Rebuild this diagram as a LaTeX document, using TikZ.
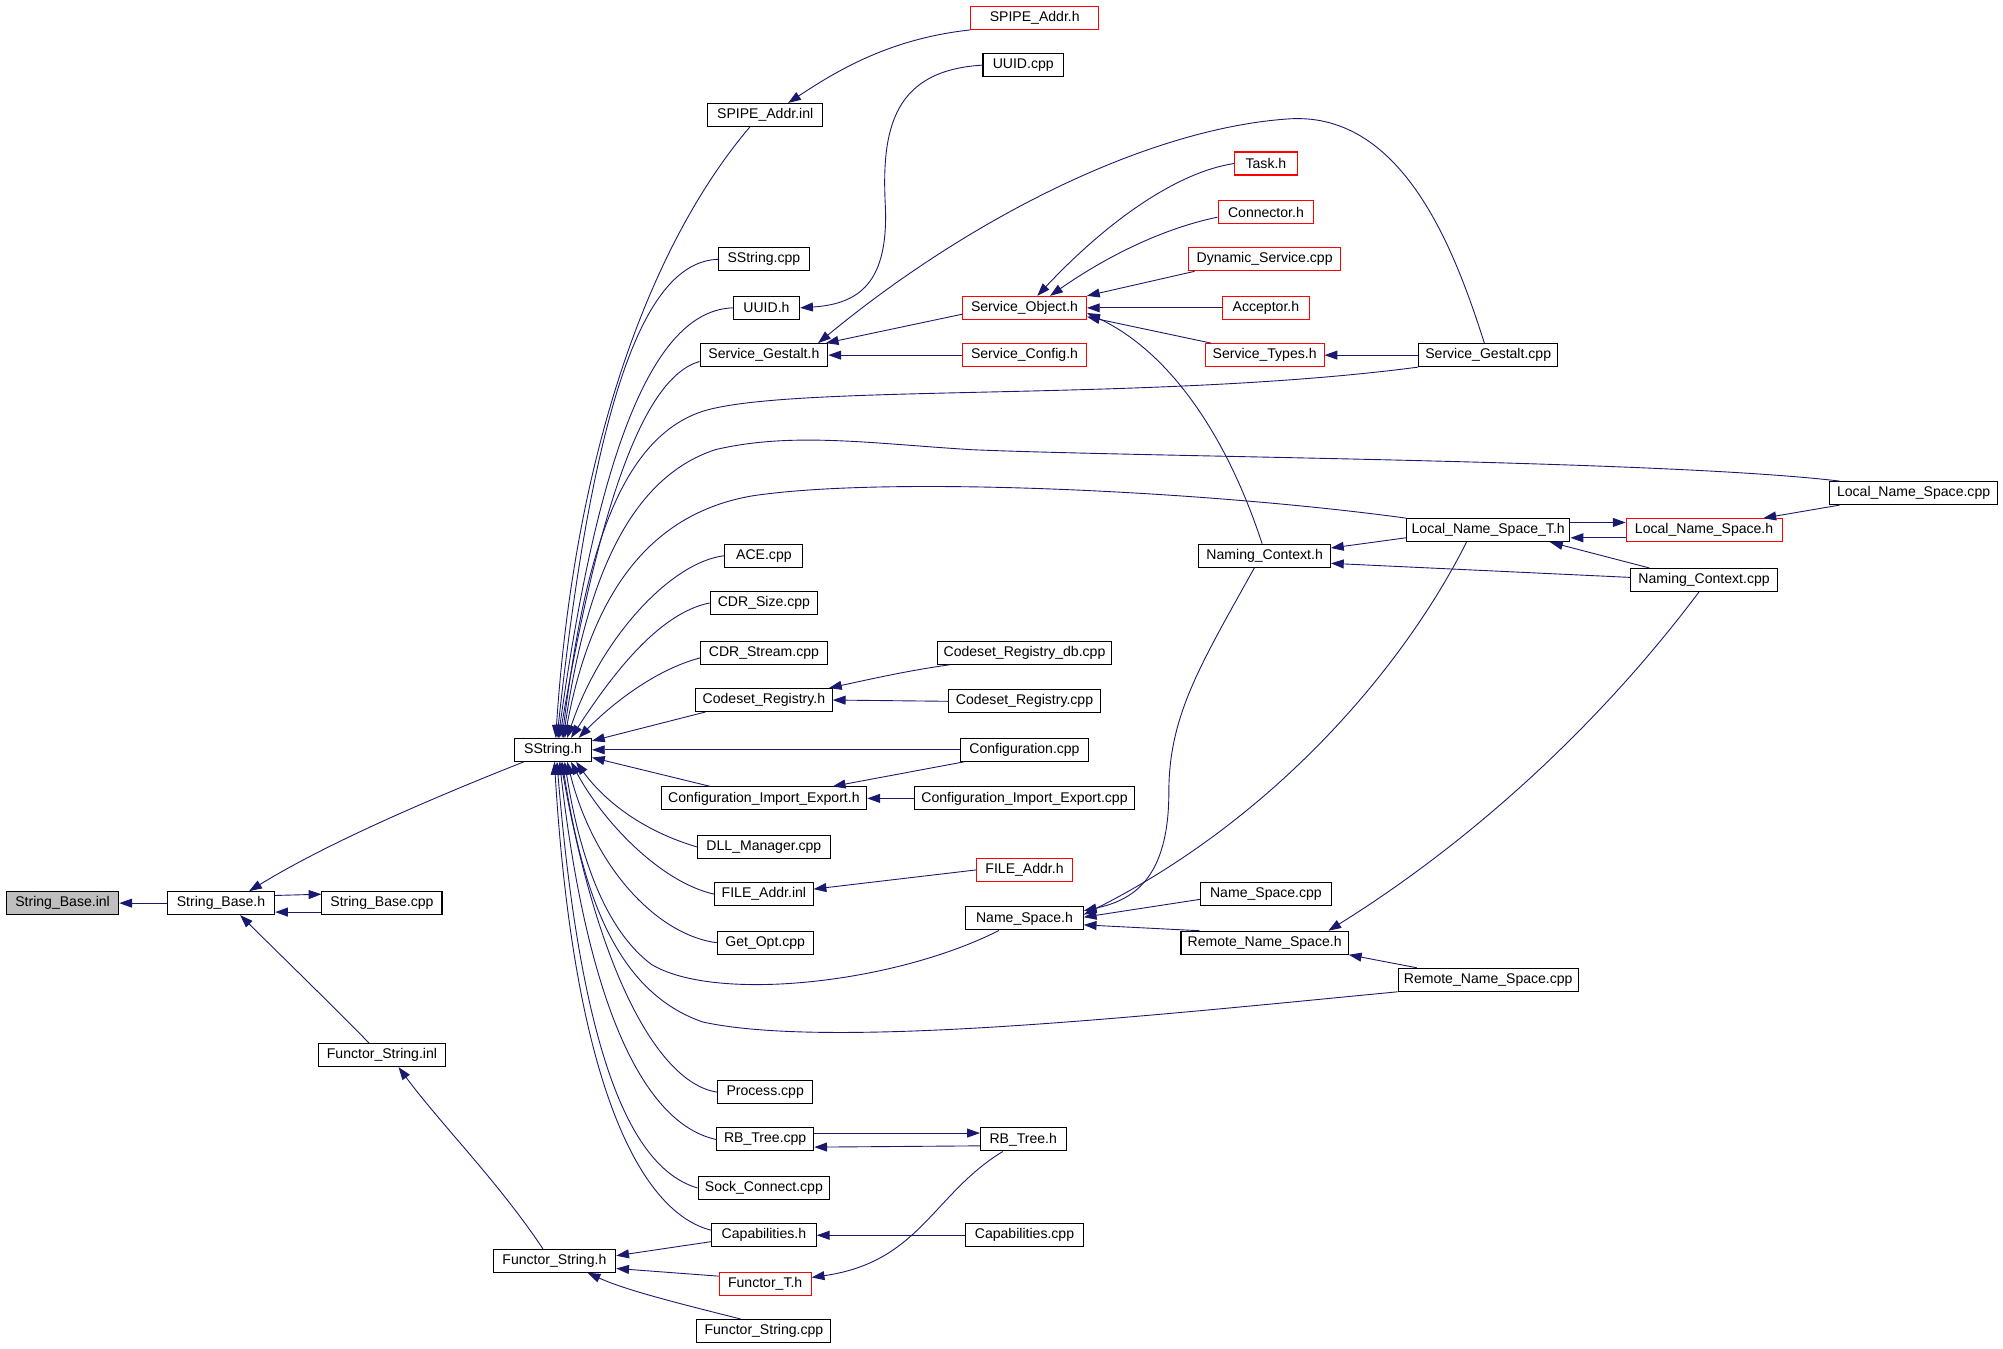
\documentclass[tikz,border=0pt]{standalone}
\usepackage{fontspec}
\setmainfont{Liberation Sans}
\usetikzlibrary{arrows.meta}
\definecolor{edgeblue}{RGB}{25,25,112}
\definecolor{boxgray}{RGB}{191,191,191}
\begin{document}
\begin{tikzpicture}[x=1pt,y=-1pt,
  box/.style={draw=black, line width=0.8pt, fill=white, minimum height=18pt, inner sep=0pt,
    font=\fontsize{11}{12}\selectfont},
  redbox/.style={box, draw=red},
  edge/.style={draw=edgeblue, line width=0.7pt, -{Triangle[length=10pt,width=7pt]}}]
\fill[white] (0,0) rectangle (1568,1056);
\useasboundingbox (0,0) rectangle (1568,1056);

% nodes
\node[box, fill=boxgray, minimum width=88pt] (sbi) at (49,707) {String\_Base.inl};
\node[box, minimum width=84pt] (sbh) at (173,707) {String\_Base.h};
\node[box, minimum width=94pt] (sbc) at (299,707) {String\_Base.cpp};
\node[box, minimum width=99pt] (fsi) at (299,826) {Functor\_String.inl};
\node[box, minimum width=96pt] (fsh) at (434,987) {Functor\_String.h};
\node[box, minimum width=60pt] (ssh) at (433,587) {SString.h};
\node[box, minimum width=90pt] (spi) at (599,90) {SPIPE\_Addr.inl};
\node[redbox, minimum width=100pt] (sph) at (810,14) {SPIPE\_Addr.h};
\node[box, minimum width=63pt] (uuc) at (801,51) {UUID.cpp};
\node[box, minimum width=71pt] (ssc) at (598,203) {SString.cpp};
\node[box, minimum width=52pt] (uuh) at (600,241) {UUID.h};
\node[box, minimum width=100pt] (sgh) at (598,278) {Service\_Gestalt.h};
\node[redbox, minimum width=97pt] (soh) at (802,241) {Service\_Object.h};
\node[redbox, minimum width=97pt] (sch) at (802,278) {Service\_Config.h};
\node[redbox, minimum width=49pt] (task) at (991,128) {Task.h};
\node[redbox, minimum width=75pt] (conn) at (991,166) {Connector.h};
\node[redbox, minimum width=119pt] (dyn) at (990,203) {Dynamic\_Service.cpp};
\node[redbox, minimum width=68pt] (acc) at (991,241) {Acceptor.h};
\node[redbox, minimum width=93pt] (sty) at (990,278) {Service\_Types.h};
\node[box, minimum width=109pt] (sgc) at (1165,278) {Service\_Gestalt.cpp};
\node[box, minimum width=131pt] (lnsc) at (1498,386) {Local\_Name\_Space.cpp};
\node[box, minimum width=128pt] (lnst) at (1165,415) {Local\_Name\_Space\_T.h};
\node[redbox, minimum width=122pt] (lnsh) at (1334,415) {Local\_Name\_Space.h};
\node[box, minimum width=103pt] (nch) at (990,435) {Naming\_Context.h};
\node[box, minimum width=115pt] (ncc) at (1334,454) {Naming\_Context.cpp};
\node[box, minimum width=61pt] (ace) at (598,435) {ACE.cpp};
\node[box, minimum width=84pt] (cdrs) at (598,472) {CDR\_Size.cpp};
\node[box, minimum width=99pt] (cdrst) at (598,511) {CDR\_Stream.cpp};
\node[box, minimum width=136pt] (crdb) at (802,511) {Codeset\_Registry\_db.cpp};
\node[box, minimum width=107pt] (crh) at (598,548) {Codeset\_Registry.h};
\node[box, minimum width=119pt] (crc) at (802,549) {Codeset\_Registry.cpp};
\node[box, minimum width=100pt] (confc) at (802,587) {Configuration.cpp};
\node[box, minimum width=161pt] (cieh) at (598,625) {Configuration\_Import\_Export.h};
\node[box, minimum width=172pt] (ciec) at (802,625) {Configuration\_Import\_Export.cpp};
\node[box, minimum width=104pt] (dll) at (598,663) {DLL\_Manager.cpp};
\node[box, minimum width=77pt] (fai) at (598,700) {FILE\_Addr.inl};
\node[redbox, minimum width=75pt] (fah) at (802,681) {FILE\_Addr.h};
\node[box, minimum width=75pt] (gop) at (599,738) {Get\_Opt.cpp};
\node[box, minimum width=92pt] (nsh) at (802,719) {Name\_Space.h};
\node[box, minimum width=102pt] (nsc) at (991,700) {Name\_Space.cpp};
\node[box, minimum width=131pt] (rnsh) at (990,738) {Remote\_Name\_Space.h};
\node[box, minimum width=141pt] (rnsc) at (1165,767) {Remote\_Name\_Space.cpp};
\node[box, minimum width=74pt] (proc) at (599,855) {Process.cpp};
\node[box, minimum width=76pt] (rbc) at (599,892) {RB\_Tree.cpp};
\node[box, minimum width=67pt] (rbh) at (801,892) {RB\_Tree.h};
\node[box, minimum width=103pt] (sock) at (598,930) {Sock\_Connect.cpp};
\node[box, minimum width=82pt] (caph) at (598,967) {Capabilities.h};
\node[box, minimum width=92pt] (capc) at (802,967) {Capabilities.cpp};
\node[redbox, minimum width=72pt] (fth) at (599,1005) {Functor\_T.h};
\node[box, minimum width=105pt] (fsc) at (598,1042) {Functor\_String.cpp};

% edges, left part
\draw[edge] (sbh.west) -- (sbi.east);
\draw[edge] ([yshift=6pt]sbh.east) -- ([yshift=7pt]sbc.west);
\draw[edge] ([yshift=-7pt]sbc.west) -- ([yshift=-7pt]sbh.east);
\draw[edge] ([xshift=-23pt]ssh.south) .. controls (300,640) and (240,670) .. ([xshift=22pt]sbh.north);
\draw[edge] ([xshift=-10pt]fsi.north) .. controls (258,785) and (222,750) .. ([xshift=15pt]sbh.south);
\draw[edge] ([xshift=-9pt]fsh.north) .. controls (390,925) and (345,880) .. ([xshift=13pt]fsi.south);
\draw[edge] ([yshift=-5pt]caph.west) -- ([yshift=4pt]fsh.east);
\draw[edge] ([yshift=6pt]fth.west) -- ([yshift=-6pt]fsh.east);
\draw[edge] ([xshift=-18pt]fsc.north) .. controls (530,1020) and (490,1010) .. ([xshift=26pt]fsh.south);
\draw[edge] (capc.west) -- (caph.east);
\draw[edge] ([xshift=-16pt]rbh.south) .. controls (730,935) and (720,988) .. ([yshift=5pt]fth.east);
\draw[edge] ([yshift=5pt]rbc.east) -- ([yshift=5pt]rbh.west);
\draw[edge] ([yshift=-5pt]rbh.west) -- ([yshift=-6pt]rbc.east);

% into SString.h from above
\draw[edge] (sph.south west) .. controls (700,30) and (660,52) .. ([xshift=18pt]spi.north);
\draw[edge] ([xshift=-12pt]spi.south) .. controls (510,190) and (450,350) .. ([xshift=2pt]ssh.north);
\draw[edge] (uuc.west) .. controls (700,55) and (690,100) .. (693,160) .. controls (696,222) and (672,238) .. (uuh.east);
\draw[edge] (ssc.west) .. controls (505,205) and (465,310) .. ([xshift=3pt]ssh.north);
\draw[edge] (uuh.west) .. controls (515,243) and (470,340) .. ([xshift=4pt]ssh.north);
\draw[edge] ([yshift=-5pt]sgh.west) .. controls (505,295) and (470,390) .. ([xshift=5pt]ssh.north);
\draw[edge] (sgc.south west) .. controls (900,315) and (620,300) .. (550,322) .. controls (480,345) and (456,450) .. ([xshift=7pt]ssh.north);
\draw[edge] ([xshift=8pt]lnsc.north west) .. controls (1300,360) and (900,358) .. (760,352) .. controls (680,347) and (620,338) .. (560,352) .. controls (490,375) and (458,460) .. ([xshift=8pt]ssh.north);
\draw[edge] (lnst.north west) .. controls (950,385) and (700,372) .. (590,388) .. controls (505,402) and (462,470) .. ([xshift=9pt]ssh.north);
\draw[edge] (ace.west) .. controls (525,440) and (470,500) .. ([xshift=11pt]ssh.north);
\draw[edge] (cdrs.west) .. controls (515,480) and (478,530) .. ([xshift=14pt]ssh.north);
\draw[edge] ([yshift=-4pt]cdrst.west) .. controls (510,525) and (475,555) .. ([xshift=20pt]ssh.north);
\draw[edge] ([xshift=8pt]crh.south west) -- ([yshift=7pt]ssh.east);
\draw[edge] (confc.west) -- (ssh.east);
\draw[edge] ([xshift=-42pt]cieh.north) -- ([yshift=-6pt]ssh.east);

% into SString.h from below
\draw[edge] (dll.west) .. controls (495,648) and (468,620) .. ([xshift=18pt]ssh.south);
\draw[edge] (fai.west) .. controls (515,690) and (470,640) .. ([xshift=14pt]ssh.south);
\draw[edge] (gop.west) .. controls (515,732) and (465,680) .. ([xshift=11pt]ssh.south);
\draw[edge] ([xshift=-20pt]nsh.south) .. controls (700,770) and (560,785) .. (510,755) .. controls (470,725) and (452,660) .. ([xshift=9pt]ssh.south);
\draw[edge] (rnsc.south west) .. controls (900,795) and (650,822) .. (550,800) .. controls (478,775) and (455,690) .. ([xshift=7pt]ssh.south);
\draw[edge] (proc.west) .. controls (515,848) and (468,760) .. ([xshift=6pt]ssh.south);
\draw[edge] (rbc.west) .. controls (505,880) and (460,790) .. ([xshift=5pt]ssh.south);
\draw[edge] (sock.west) .. controls (495,915) and (455,830) .. ([xshift=3pt]ssh.south);
\draw[edge] ([yshift=4pt]caph.west) .. controls (505,950) and (450,860) .. ([xshift=1pt]ssh.south);

% service part
\draw[edge] ([yshift=-5pt]soh.west) -- ([xshift=-2pt]sgh.north east);
\draw[edge] (sch.west) -- (sgh.east);
\draw[edge] ([xshift=-3pt]sgc.north) .. controls (1140,200) and (1100,88) .. (1010,93) .. controls (900,100) and (760,170) .. ([xshift=-8pt]sgh.north east);
\draw[edge] (task.west) .. controls (920,135) and (865,175) .. ([xshift=10pt]soh.north);
\draw[edge] ([yshift=-4pt]conn.west) .. controls (905,180) and (860,205) .. ([xshift=20pt]soh.north);
\draw[edge] ([xshift=5pt]dyn.south west) -- (soh.north east);
\draw[edge] (acc.west) -- (soh.east);
\draw[edge] ([xshift=5pt]sty.north west) -- ([yshift=-7pt]soh.east);
\draw[edge] ([xshift=-2pt]nch.north) .. controls (960,340) and (915,275) .. ([yshift=-4pt]soh.east);
\draw[edge] (sgc.west) -- (sty.east);

% name space part
\draw[edge] ([xshift=8pt]lnsc.south west) -- ([xshift=-15pt]lnsh.north east);
\draw[edge] ([yshift=6pt]lnst.east) -- ([yshift=6pt]lnsh.west);
\draw[edge] ([yshift=-6pt]lnsh.west) -- ([yshift=-6pt]lnst.east);
\draw[edge] ([xshift=15pt]ncc.north west) -- ([xshift=-16pt]lnst.south east);
\draw[edge] ([yshift=-6pt]lnst.west) -- ([yshift=6pt]nch.east);
\draw[edge] ([yshift=2pt]ncc.west) -- ([yshift=-6pt]nch.east);
\draw[edge] ([xshift=-8pt]nch.south) .. controls (940,520) and (915,560) .. (915,620) .. controls (915,690) and (885,705) .. ([yshift=6pt]nsh.east);
\draw[edge] ([xshift=-17pt]lnst.south) .. controls (1100,520) and (1000,640) .. ([yshift=3pt]nsh.east);
\draw[edge] ([yshift=-4pt]nsc.west) -- ([yshift=1pt]nsh.east);
\draw[edge] ([xshift=15pt]rnsh.north west) -- ([yshift=-5pt]nsh.east);
\draw[edge] ([xshift=15pt]rnsc.north west) -- (rnsh.south east);
\draw[edge] ([xshift=-4pt]ncc.south) .. controls (1250,570) and (1150,660) .. ([xshift=-16pt]rnsh.north east);

% codeset, configuration, file
\draw[edge] ([xshift=10pt]crdb.south west) .. controls (710,525) and (680,532) .. ([xshift=-3pt]crh.north east);
\draw[edge] (crc.west) -- (crh.east);
\draw[edge] ([xshift=3pt]confc.south west) -- ([xshift=-27pt]cieh.north east);
\draw[edge] (ciec.west) -- (cieh.east);
\draw[edge] (fah.west) -- ([yshift=4pt]fai.east);
\end{tikzpicture}
\end{document}
